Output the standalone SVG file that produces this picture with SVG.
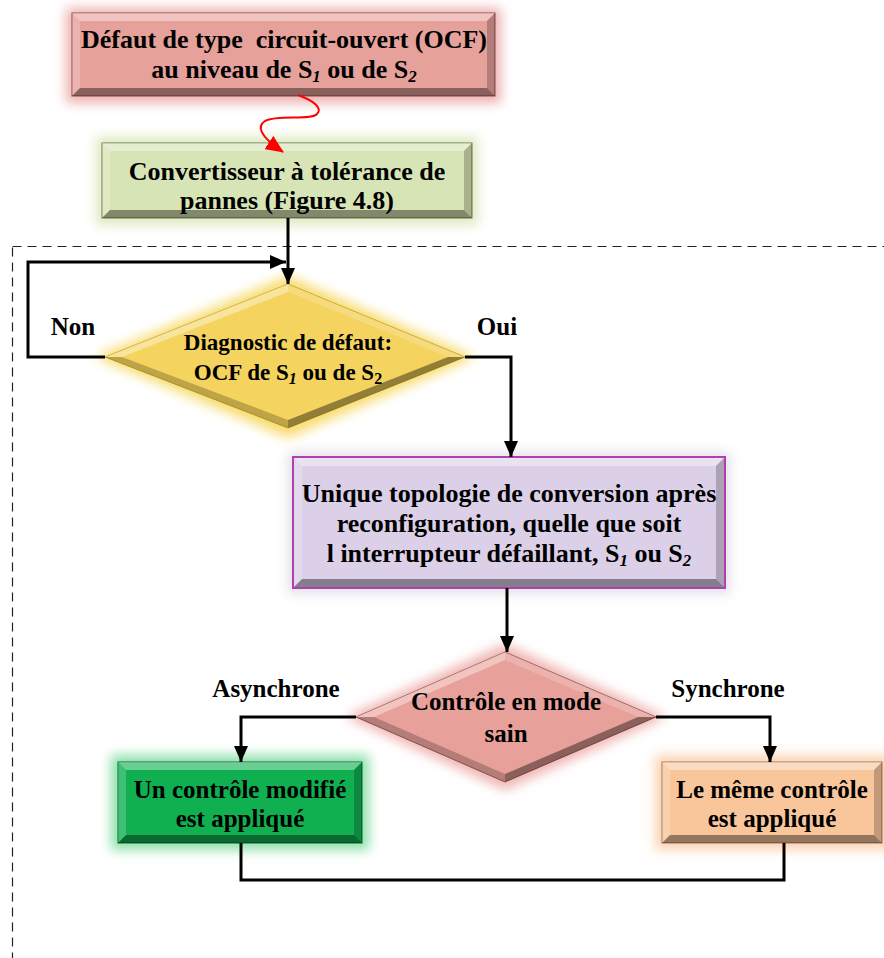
<svg xmlns="http://www.w3.org/2000/svg" width="884" height="958" viewBox="0 0 884 958">
<defs>
<style>
text{font-family:"Liberation Serif","Times New Roman",serif;font-weight:bold;fill:#000;white-space:pre}
.t{font-size:26px;text-anchor:middle}
.b{font-size:25px;text-anchor:middle}
.lbl{font-size:25px;text-anchor:middle}
.sub{font-size:17px}
.it{font-style:italic}
.hi{fill:#fff;fill-opacity:.38}
.hl{fill:#fff;fill-opacity:.2}
.sd{fill:#000;fill-opacity:.22}
.sb{fill:#000;fill-opacity:.4}
.con{fill:none;stroke:#000;stroke-width:3}
</style>
<filter id="glow" x="-30%" y="-40%" width="160%" height="180%"><feGaussianBlur stdDeviation="6"/></filter>
<marker id="ah" markerUnits="userSpaceOnUse" markerWidth="16" markerHeight="14" refX="16" refY="7" orient="auto"><path d="M0,0 L16,7 L0,14 Z" fill="#000"/></marker>
<marker id="ahr" markerUnits="userSpaceOnUse" markerWidth="18" markerHeight="16" refX="17" refY="8" orient="auto"><path d="M0,0 L18,8 L0,16 Z" fill="#f00"/></marker>
</defs>
<rect x="12.5" y="246.5" width="900" height="800" fill="none" stroke="#222" stroke-width="1.2" stroke-dasharray="9,6"/>
<g id="n1">
<rect x="66" y="8" width="435" height="95" fill="#eeb0b0" filter="url(#glow)"/>
<rect x="72" y="13" width="423" height="83" fill="#e6a19b" stroke="#8b4a48" stroke-width="1"/>
<polygon class="hi" points="72,13 495,13 487,21 80,21"/>
<polygon class="hl" points="72,13 80,21 80,88 72,96"/>
<polygon class="sd" points="495,13 495,96 487,88 487,21"/>
<polygon class="sb" points="72,96 495,96 487,88 80,88"/>
<text class="t" x="284" y="48">Défaut de type  circuit-ouvert (OCF)</text>
<text class="t" x="284" y="78">au niveau de S<tspan class="sub it" dy="4">1</tspan><tspan dy="-4"> ou de S</tspan><tspan class="sub it" dy="4">2</tspan></text>
</g>
<g id="n2">
<rect x="96" y="137" width="382" height="88" fill="#dde9c0" filter="url(#glow)"/>
<rect x="102" y="143" width="370" height="75" fill="#d7e4b5" stroke="#6b7a45" stroke-width="1"/>
<polygon class="hi" points="102,143 472,143 464,151 110,151"/>
<polygon class="hl" points="102,143 110,151 110,210 102,218"/>
<polygon class="sd" points="472,143 472,218 464,210 464,151"/>
<polygon class="sb" points="102,218 472,218 464,210 110,210"/>
<text class="t" x="287" y="180">Convertisseur à tolérance de</text>
<text class="t" x="287" y="209">pannes (Figure 4.8)</text>
</g>
<g id="d1">
<polygon points="288,276 95,357 288,438 475,357" fill="#f8dc70" filter="url(#glow)"/>
<polygon points="288,284 105,357 288,428 465,357" fill="#f4d35e" stroke="#c9a520" stroke-width="1"/>
<polygon class="hi" points="288,284 105,357 122,357 288,292"/>
<polygon class="hl" points="288,284 465,357 448,357 288,292"/>
<polygon class="sd" points="105,357 288,428 288,420 122,357"/>
<polygon class="sb" points="465,357 288,428 288,420 448,357"/>
<text class="t" x="288" y="350" style="font-size:23px">Diagnostic de défaut:</text>
<text class="t" x="288" y="380" style="font-size:23px">OCF de S<tspan class="sub it" dy="4" style="font-size:16px">1</tspan><tspan dy="-4"> ou de S</tspan><tspan class="sub" dy="4" style="font-size:16px">2</tspan></text>
</g>
<g id="n3">
<rect x="288" y="452" width="442" height="142" fill="#e4e0ea" filter="url(#glow)"/>
<rect x="293" y="457" width="432" height="131" fill="#dcd0e8" stroke="#b040b0" stroke-width="2"/>
<polygon class="hi" points="294,458 724,458 716,466 302,466"/>
<polygon class="hl" points="294,458 302,466 302,579 294,587"/>
<polygon class="sd" points="724,458 724,587 716,579 716,466"/>
<polygon class="sb" points="294,587 724,587 716,579 302,579"/>
<text class="t" x="509" y="502">Unique topologie de conversion après</text>
<text class="t" x="509" y="532">reconfiguration, quelle que soit</text>
<text class="t" x="509" y="562">l interrupteur défaillant, S<tspan class="sub it" dy="4">1</tspan><tspan dy="-4"> ou S</tspan><tspan class="sub it" dy="4">2</tspan></text>
</g>
<g id="d2">
<polygon points="505,644 346,717 505,790 666,717" fill="#eeb4b0" filter="url(#glow)"/>
<polygon points="505,652 356,717 505,782 656,717" fill="#e8a09a" stroke="#9a5a56" stroke-width="1"/>
<polygon class="hi" points="505,652 356,717 374,717 505,660"/>
<polygon class="hl" points="505,652 656,717 638,717 505,660"/>
<polygon class="sd" points="356,717 505,782 505,774 374,717"/>
<polygon class="sb" points="656,717 505,782 505,774 638,717"/>
<text class="b" x="506" y="710">Contrôle en mode</text>
<text class="b" x="506" y="742">sain</text>
</g>
<g id="n4">
<rect x="111" y="755" width="258" height="95" fill="#8ee0aa" filter="url(#glow)"/>
<rect x="118" y="762" width="244" height="81" fill="#10b050" stroke="#006a2c" stroke-width="1"/>
<polygon class="hi" points="118,762 362,762 354,770 126,770"/>
<polygon class="hl" points="118,762 126,770 126,835 118,843"/>
<polygon class="sd" points="362,762 362,843 354,835 354,770"/>
<polygon class="sb" points="118,843 362,843 354,835 126,835"/>
<text class="b" x="240" y="798">Un contrôle modifié</text>
<text class="b" x="240" y="827">est appliqué</text>
</g>
<g id="n5">
<rect x="655" y="755" width="240" height="95" fill="#fbd4b4" filter="url(#glow)"/>
<rect x="662" y="762" width="220" height="81" fill="#f9c69c" stroke="#a07050" stroke-width="1"/>
<polygon class="hi" points="662,762 882,762 874,770 670,770"/>
<polygon class="hl" points="662,762 670,770 670,835 662,843"/>
<polygon class="sd" points="882,762 882,843 874,835 874,770"/>
<polygon class="sb" points="662,843 882,843 874,835 670,835"/>
<text class="b" x="772" y="798">Le même contrôle</text>
<text class="b" x="772" y="827">est appliqué</text>
</g>
<g id="connectors">
<path d="M298,95 C314,101 323,108 317,114 C310,121 278,114 265,121 C257,126 259,136 283,152" fill="none" stroke="#f00" stroke-width="2" marker-end="url(#ahr)"/>
<path class="con" d="M288,218 V284" marker-end="url(#ah)"/>
<path class="con" d="M105,357 H28 V262 H286" marker-end="url(#ah)"/>
<path class="con" d="M465,357 H511 V457" marker-end="url(#ah)"/>
<path class="con" d="M507,588 V652" marker-end="url(#ah)"/>
<path class="con" d="M356,717 H241 V762" marker-end="url(#ah)"/>
<path class="con" d="M656,717 H770 V762" marker-end="url(#ah)"/>
<path class="con" d="M241,843 V880 H784 V843"/>
<text class="lbl" x="73" y="335">Non</text>
<text class="lbl" x="497" y="335">Oui</text>
<text class="lbl" x="276" y="697">Asynchrone</text>
<text class="lbl" x="728" y="697">Synchrone</text>
</g>
</svg>
